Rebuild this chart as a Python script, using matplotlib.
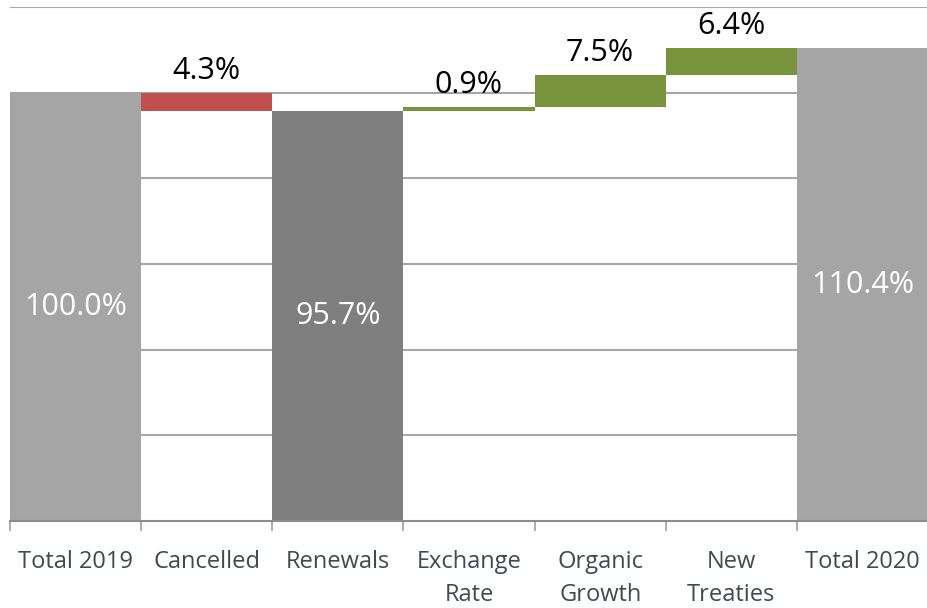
import numpy as np
import matplotlib.pyplot as plt

categories = ["Total 2019", "Cancelled", "Renewals", "Exchange\nRate",
              "Organic\nGrowth", "New\nTreaties", "Total 2020"]
# kind: "total" bars start at 0, "step" bars float on a base
kinds = ["total", "down", "total", "up", "up", "up", "total"]
values = [100.0, 4.3, 95.7, 0.9, 7.5, 6.4, 110.4]
colors = ["#a5a5a5", "#c0504d", "#7f7f7f", "#77933c", "#77933c", "#77933c", "#a5a5a5"]

plt.rcParams["font.family"] = ["Open Sans", "DejaVu Sans"]

fig = plt.figure(figsize=(9.28, 6.08), dpi=100)
ax = fig.add_axes([10 / 928, 87 / 608, 918 / 928, 514 / 608])

x = np.arange(len(categories))
bottoms, heights = [], []
level = 0.0
for kind, v in zip(kinds, values):
    if kind == "total":
        bottoms.append(0.0)
        heights.append(v)
        level = v
    elif kind == "down":
        level -= v
        bottoms.append(level)
        heights.append(v)
    else:
        bottoms.append(level)
        heights.append(v)
        level += v

ax.bar(x, heights, bottom=bottoms, width=1.0, color=colors, zorder=2)

for xi, kind, v, b, h in zip(x, kinds, values, bottoms, heights):
    if kind == "total":
        ax.text(xi, h / 2, f"{v:.1f}%", ha="center", va="center",
                color="white", fontsize=22, zorder=3)
    else:
        ax.annotate(f"{v:.1f}%", (xi, b + h), xytext=(0, 5),
                    textcoords="offset points", ha="center", va="bottom",
                    color="black", fontsize=22, zorder=3)

ax.set_xlim(-0.5, len(categories) - 0.5)
ax.set_ylim(0, 120)
ax.set_yticks(np.arange(20, 121, 20))
ax.yaxis.grid(True, color="#a6a6a6", linewidth=1.5, zorder=0)
ax.set_axisbelow(True)
ax.tick_params(axis="y", left=False, labelleft=False)

ax.set_xticks(x)
ax.set_xticklabels(categories, fontsize=17, color="#3f4a52", linespacing=1.5)
ax.set_xticks(np.arange(-0.5, len(categories)), minor=True)
ax.tick_params(axis="x", which="major", length=0, pad=21)
ax.tick_params(axis="x", which="minor", length=7, width=1.2, color="#a0a0a0",
               direction="out")
for lbl in ax.get_xticklabels():
    lbl.set_verticalalignment("top")

for side in ["left", "right", "top"]:
    ax.spines[side].set_visible(False)
ax.spines["bottom"].set_color("#8c8c8c")
ax.spines["bottom"].set_linewidth(1.5)
ax.spines["bottom"].set_zorder(4)

fig.savefig("out.png", dpi=100)
plt.close(fig)
